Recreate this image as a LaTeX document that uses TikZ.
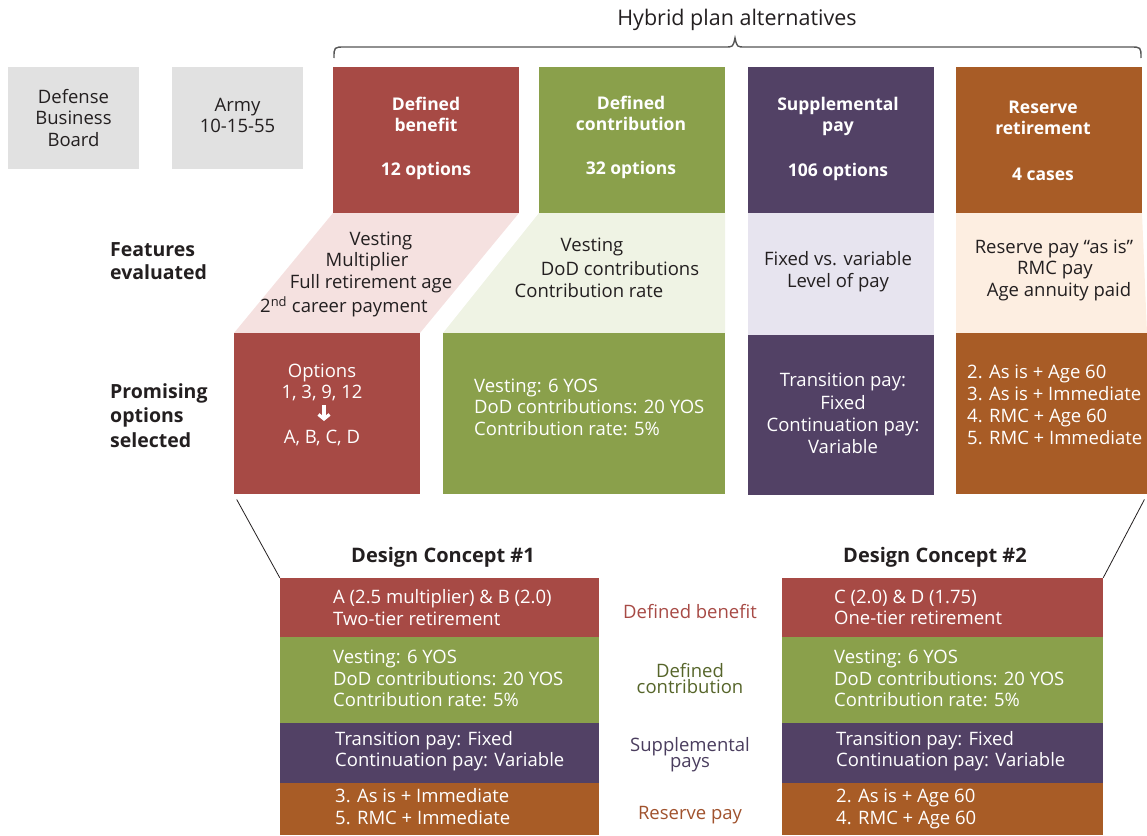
\documentclass[tikz,border=0pt]{standalone}
\usepackage{fontspec}
\setmainfont{Open Sans}
\usetikzlibrary{arrows.meta}
\definecolor{dbred}{HTML}{A74A45}
\definecolor{dcgreen}{HTML}{8AA04B}
\definecolor{sppurple}{HTML}{524165}
\definecolor{rrorange}{HTML}{A85C26}
\definecolor{boxgray}{HTML}{E1E1E1}
\definecolor{lpink}{HTML}{F5E1E0}
\definecolor{lgreen}{HTML}{EFF3E4}
\definecolor{llav}{HTML}{E7E4EF}
\definecolor{lpeach}{HTML}{FDEEE1}
\definecolor{txt}{HTML}{231F20}
\definecolor{dcdark}{HTML}{56652A}
\definecolor{spdark}{HTML}{4A3D5E}
\definecolor{rrdark}{HTML}{A0522D}
\definecolor{bracegray}{HTML}{555555}
\newcommand{\fsz}{\fontsize{18.5}{21.5}\selectfont}
\begin{document}
\begin{tikzpicture}[x=1pt,y=-1pt,
  every node/.style={font=\fsz, inner sep=0pt, text=txt},
  graybox/.style={fill=boxgray, minimum width=131pt, minimum height=102pt, align=center},
  hdrbox/.style={minimum width=186pt, minimum height=146pt},
  wtxt/.style={text=white, align=center},
  wbold/.style={text=white, align=center, font=\fontsize{17.5}{21}\selectfont\bfseries},
  wleft/.style={text=white, align=left, anchor=west},
  ftxt/.style={text=txt, align=center},
  rowlbl/.style={font=\fontsize{19.5}{23}\selectfont\bfseries, align=left, anchor=west},
  dctitle/.style={font=\fontsize{20}{24}\selectfont\bfseries},
  midlbl/.style={align=center, font=\fontsize{18.5}{16.5}\selectfont}
]
\useasboundingbox (0,0) rectangle (1147,835);

% brace
\node[font=\fontsize{21.5}{24}\selectfont] (hyb) at (737,20) {Hybrid plan alternatives};
\draw[bracegray, line width=1.4pt] (334,58) .. controls (334,47) .. (345,47) -- (725,47)
  .. controls (733,47) .. (735,38) .. controls (737,47) .. (745,47) -- (1130,47)
  .. controls (1141,47) .. (1141,58);

% gray boxes
\node[graybox] (dbb) at (73.5,118) {Defense\\Business\\Board};
\node[graybox] (army) at (237.5,118) {};
\node[ftxt] (armyt) at (237.5,115.5) {Army\\10-15-55};

% header boxes
\node[hdrbox, fill=dbred] (db) at (426,140) {};
\node[hdrbox, fill=dcgreen] (dc) at (632,140) {};
\node[hdrbox, fill=sppurple] (sp) at (841,140) {};
\node[hdrbox, fill=rrorange] (rr) at (1049,140) {};
\node[wbold] (dbt) at (426,114.5) {Defined\\benefit};
\node[wbold] (dbn) at (426,171) {12 options};
\node[wbold] (dct) at (631,113.5) {Defined\\contribution};
\node[wbold] (dcn) at (631,170) {32 options};
\node[wbold] (spt) at (838,116.5) {Supplemental\\pay};
\node[wbold] (spn) at (838,172) {106 options};
\node[wbold] (rrt) at (1043,117.5) {Reserve\\retirement};
\node[wbold] (rrn) at (1043,174) {4 cases};

% feature areas
\fill[lpink] (333,213) -- (519,213) -- (420,333) -- (234,333) -- cycle;
\fill[lgreen] (539,213) -- (725,213) -- (725,333) -- (443,333) -- cycle;
\fill[llav] (748,213) rectangle (934,335);
\fill[lpeach] (956,213) -- (1142,213) -- (1147,333) -- (956,333) -- cycle;

\node[ftxt] (fa1) at (381,241) {Vesting};
\node[ftxt] (fa2) at (367,262) {Multiplier};
\node[ftxt] (fa3) at (371,284) {Full retirement age};
\node[ftxt] (fa4) at (344,307) {2\textsuperscript{nd} career payment};
\node[ftxt] (fb1) at (592,247) {Vesting};
\node[ftxt] (fb2) at (620,269) {DoD contributions};
\node[ftxt] (fb3) at (589,291) {Contribution rate};
\node[ftxt] (fc) at (838,271.5) {Fixed vs. variable\\Level of pay};
\node[ftxt] (fd1) at (1054,249) {Reserve pay “as is”};
\node[ftxt] (fd2) at (1055,270) {RMC pay};
\node[ftxt] (fd3) at (1059,292) {Age annuity paid};

% row labels
\node[rowlbl] (rl1) at (110,261.5) {Features\\evaluated};
\node[rowlbl, font=\fontsize{19.5}{24.5}\selectfont\bfseries] (rl2) at (110,415.5) {Promising\\options\\selected};

% option boxes
\node[fill=dbred, minimum width=186pt, minimum height=161pt] (dbopt) at (327,413.5) {};
\node[fill=dcgreen, minimum width=282pt, minimum height=161pt] (dcopt) at (584,413.5) {};
\node[fill=sppurple, minimum width=186pt, minimum height=160pt] (spopt) at (841,415) {};
\node[fill=rrorange, minimum width=191pt, minimum height=161pt] (rropt) at (1051.5,413.5) {};

\node[wtxt] (o1) at (322,382.5) {Options\\1, 3, 9, 12};
\coordinate (arT) at (324,405);
\coordinate (arB) at (324,421);
\draw[white, line width=3.2pt, -{Straight Barb[length=4.5pt,width=11pt]}] (arT) -- (arB);
\node[wtxt] (o2) at (322,438) {A, B, C, D};
\node[wleft] (o3) at (474,407) {Vesting: 6 YOS\\DoD contributions: 20 YOS\\Contribution rate: 5\%};
\node[wtxt, font=\fontsize{18.5}{22.3}\selectfont] (o4) at (843,413.5) {Transition pay:\\Fixed\\Continuation pay:\\Variable};
\node[wleft, font=\fontsize{18.5}{22}\selectfont] (o5) at (967,405) {2. As is + Age 60\\3. As is + Immediate\\4. RMC + Age 60\\5. RMC + Immediate};

% design concepts
\node[dctitle] (t1) at (443,557) {Design Concept \#1};
\node[dctitle] (t2) at (935,557) {Design Concept \#2};

\node[fill=dbred, minimum width=319pt, minimum height=59pt] (c1a) at (439.5,607.5) {};
\node[fill=dcgreen, minimum width=319pt, minimum height=86pt] (c1b) at (439.5,680) {};
\node[fill=sppurple, minimum width=319pt, minimum height=60pt] (c1c) at (439.5,753) {};
\node[fill=rrorange, minimum width=319pt, minimum height=52pt] (c1d) at (439.5,809) {};
\node[fill=dbred, minimum width=321pt, minimum height=59pt] (c2a) at (942.5,607.5) {};
\node[fill=dcgreen, minimum width=321pt, minimum height=86pt] (c2b) at (942.5,680) {};
\node[fill=sppurple, minimum width=321pt, minimum height=60pt] (c2c) at (942.5,753) {};
\node[fill=rrorange, minimum width=321pt, minimum height=52pt] (c2d) at (942.5,809) {};

\node[wleft] (c1at) at (333,607.5) {A (2.5 multiplier) \& B (2.0)\\Two-tier retirement};
\node[wleft] (c1bt) at (333,678.5) {Vesting: 6 YOS\\DoD contributions: 20 YOS\\Contribution rate: 5\%};
\node[wleft] (c1ct) at (335,751) {Transition pay: Fixed\\Continuation pay: Variable};
\node[wleft] (c1dt) at (335,806.5) {3. As is + Immediate\\5. RMC + Immediate};
\node[wleft] (c2at) at (834,607.5) {C (2.0) \& D (1.75)\\One-tier retirement};
\node[wleft] (c2bt) at (834,678.5) {Vesting: 6 YOS\\DoD contributions: 20 YOS\\Contribution rate: 5\%};
\node[wleft] (c2ct) at (836,751) {Transition pay: Fixed\\Continuation pay: Variable};
\node[wleft] (c2dt) at (836,809) {2. As is + Age 60\\4. RMC + Age 60};

\node[midlbl, text=dbred] (m1) at (690,612) {Defined benefit};
\node[midlbl, text=dcdark] (m2) at (690,678.5) {Defined\\contribution};
\node[midlbl, text=spdark] (m3) at (690,754.5) {Supplemental\\pays};
\node[midlbl, text=rrdark] (m4) at (690,815) {Reserve pay};

% connector lines
\draw[txt, line width=0.8pt, shorten <=6pt] (dbopt.south west) -- (c1a.north west);
\draw[txt, line width=0.8pt, shorten <=6pt] (rropt.south east) -- (c2a.north east);
\end{tikzpicture}
\end{document}
